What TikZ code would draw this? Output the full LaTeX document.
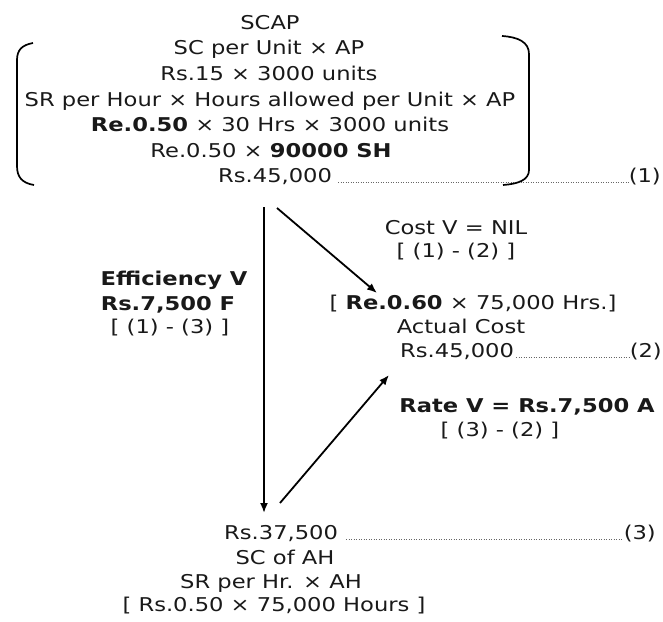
\documentclass[tikz,border=0pt]{standalone}
\usepackage{fontspec}
\setmainfont{DejaVu Sans}
\newfontfamily\cfont[FakeStretch=1.19]{DejaVu Sans}
\usetikzlibrary{arrows.meta}
\begin{document}
\begin{tikzpicture}[x=1pt,y=-1pt,
  txt/.style={font=\cfont\fontsize{19}{22}\selectfont, inner sep=0pt, anchor=mid, text=black!90},
  arr/.style={line width=1.8pt, -{Latex[length=10pt,width=8pt]}},
  lead/.style={line width=0.7pt, dash pattern=on 0.9pt off 1.6pt, black!60},
  brk/.style={line width=1.7pt}]
\useasboundingbox (0,0) rectangle (663,621);
% top block
\node[txt] (scap) at (270,27) {SCAP};
\node[txt] (l2) at (269,52) {SC per Unit × AP};
\node[txt] (l3) at (269,78) {Rs.15 × 3000 units};
\node[txt] (l4) at (270,104) {SR per Hour × Hours allowed per Unit × AP};
\node[txt] (l5) at (270,129) {\textbf{Re.0.50} × 30 Hrs × 3000 units};
\node[txt] (l6) at (271,155) {Re.0.50 × \textbf{90000 SH}};
\node[txt, anchor=mid west] (r1) at (218,180) {Rs.45,000};
\node[txt, anchor=mid east] (n1) at (661,180) {(1)};
\draw[lead] ([xshift=6pt]r1.base east) -- (n1.base west);
% brackets
\draw[brk] (33,43) .. controls (22,45) and (17,50) .. (17,60) -- (17,166) .. controls (17,177) and (22,183) .. (34,185);
\draw[brk] (502,36) .. controls (518,37) and (529,42) .. (529,54) -- (529,170) .. controls (529,180) and (518,184) .. (503,185);
% middle right
\node[txt] (cv) at (456,232) {Cost V = NIL};
\node[txt] (cv2) at (456,255) {[ (1) - (2) ]};
\node[txt] (ac1) at (473,307) {[ \textbf{Re.0.60} × 75,000 Hrs.]};
\node[txt] (ac2) at (461,331) {Actual Cost};
\node[txt, anchor=mid west] (r2) at (400,355) {Rs.45,000};
\node[txt, anchor=mid east] (n2) at (662,355) {(2)};
\draw[lead] ([xshift=2pt]r2.base east) -- (n2.base west);
% middle left
\node[txt] (ev1) at (174,283) {\textbf{Efficiency V}};
\node[txt] (ev2) at (168,308) {\textbf{Rs.7,500 F}};
\node[txt] (ev3) at (170,331) {[ (1) - (3) ]};
% rate
\node[txt] (rv1) at (527,410) {\textbf{Rate V = Rs.7,500 A}};
\node[txt] (rv2) at (500,434) {[ (3) - (2) ]};
% bottom block
\node[txt, anchor=mid west] (r3) at (224,537) {Rs.37,500};
\node[txt, anchor=mid east] (n3) at (656,537) {(3)};
\draw[lead] ([xshift=8pt]r3.base east) -- (n3.base west);
\node[txt] (b2) at (285,562) {SC of AH};
\node[txt] (b3) at (271,586) {SR per Hr. × AH};
\node[txt] (b4) at (274,609) {[ Rs.0.50 × 75,000 Hours ]};
% arrows
\coordinate (v0) at (264,207);
\coordinate (v1) at (264,513);
\coordinate (d0) at (277,208);
\coordinate (d1) at (377,293);
\coordinate (u0) at (280,503);
\coordinate (u1) at (389,375);
\draw[arr] (v0) -- (v1);
\draw[arr] (d0) -- (d1);
\draw[arr] (u0) -- (u1);
\end{tikzpicture}
\end{document}
